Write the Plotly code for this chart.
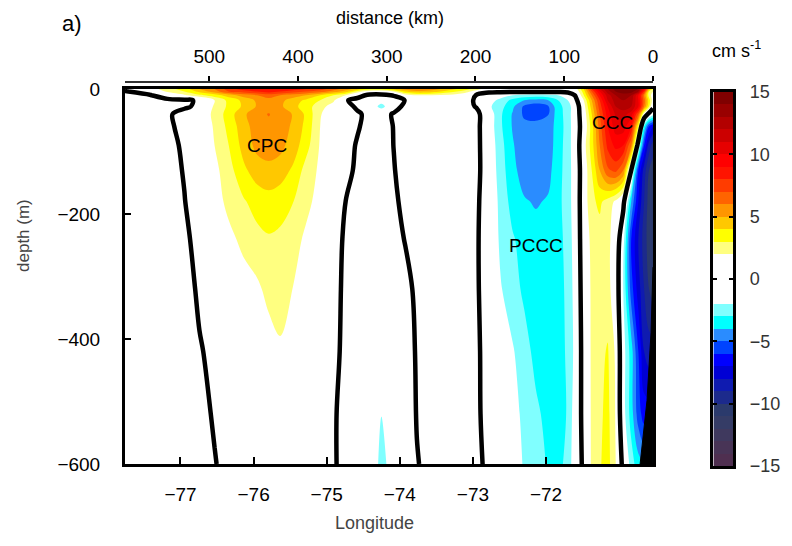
import numpy as np
import plotly.graph_objects as go

FONT = "Liberation Sans, Arial, sans-serif"

# Section geometry: distance from the coast (km), offshore -> coast
dist_km = [595, 567, 547, 528, 511, 494, 478, 461, 446, 433, 420, 405, 391, 375, 360,
           346, 333, 319, 306, 292, 279, 266, 249, 230, 212, 199, 185, 172, 158, 145,
           132, 118, 107, 96, 87, 78, 69, 60, 51, 42, 33.5, 24.5, 16.5, 10, 4.5, 0]
depth_m = [0, -4, -10, -18, -28, -40, -60, -90, -130, -180, -240, -320, -420, -520, -600]

# Alongshore velocity (cm/s) at each depth level, same column order as dist_km
u_0m = [0.5, 1.5, 2.5, 3.5, 5, 6, 7.5, 8.5, 9, 9, 9, 8.5, 8, 7.5, 6.5,
        5.5, 4.5, 3.5, 3.5, 4.5, 5.5, 6, 5.5, 4.5, 3.5, 2.5, 1.2, 0.8, 0.6, 0.6,
        0.6, 0.6, 0.6, 0.8, 1.5, 4, 8, 11, 13, 14.5, 14.8, 14.8, 14, 10, 5, 3]
u_4m = [-0.1, 0.6, 2.2, 3, 4.3, 5.5, 7, 7.5, 8, 8.5, 8, 7.5, 7, 6.5, 5.5,
        4.5, 2.5, 1.2, 1.0, 2, 4, 4.8, 4.5, 3.5, 2.5, 1.5, 0.4, 0.3, 0.3, 0.3,
        0.3, 0.3, 0.3, 0.5, 1, 3.5, 7, 10, 12.5, 14, 14.5, 14.5, 13, 8, 3, 2]
u_10m = [-0.6, -0.1, 0.8, 1.8, 2.8, 3.5, 4.5, 5.5, 6, 6.5, 6, 5.5, 5, 4, 3,
         2, 0.5, -0.3, -0.3, 0.1, 1.5, 2, 2, 1.8, 1.2, -0.1, -1, -1.5, -2, -2.3,
         -2.5, -2.3, -2, -1.3, 0.2, 3, 6, 9, 11.5, 13, 13.5, 13, 10, 6, 2.5, 1.5]
u_18m = [-0.8, -0.6, -0.3, -0.2, 0.15, 2.0, 3.3, 4.3, 5.2, 5.6, 5.3, 4.5, 3.8, 3.0, 2.2,
         0.1, -0.4, -0.7, -1.5, -0.6, 0.05, 0.8, 1.2, 1.2, 0.4, -0.15, -1.5, -2.3, -3.3, -4.0,
         -4.3, -4.0, -3.0, -2.0, -0.4, 2.0, 5.0, 8.0, 11.0, 12.5, 13.0, 12.5, 10.0, 6.5, 3.5, 1.5]
u_28m = [-1, -0.9, -0.6, -0.3, 0.4, 2.2, 3.2, 4.2, 5.1, 5.6, 5.2, 4.3, 3.5, 2.4, 1.5,
         0.6, -0.3, -1.2, -2.4, -1.0, 0.6, 1, 1.2, 1.1, 0.6, -0.1, -1.8, -2.6, -3.8, -5.2,
         -5.6, -5.1, -3.3, -2.6, -1, 1.5, 4.5, 7.5, 10, 12, 12.5, 12, 10, 6, 3, 0.5]
u_40m = [-1, -1, -0.3, 0.7, 1.4, 2.2, 3.5, 4.8, 5.7, 6.05, 5.6, 4.9, 3.8, 2.1, 1.2,
         0.6, 0.25, -0.5, -0.8, 0.2, 0.7, 1, 1.1, 1, 0.7, 0.5, -1.3, -2.8, -4.1, -5.2,
         -5.3, -5.05, -3.4, -2.6, -1, 1.2, 4, 7, 9.5, 11.2, 11.5, 10.5, 7, 1.5, -0.5, -1.5]
u_60m = [-1, -1, -0.4, 0.6, 1.3, 2.1, 3.3, 4.6, 5.5, 5.8, 5.5, 4.8, 3.7, 2.0, 1.1,
         0.5, 0.1, -0.4, -0.6, 0.05, 0.6, 0.9, 1, 1, 0.7, 0.5, -1.3, -2.8, -4.1, -4.7,
         -4.75, -4.6, -3.5, -2.6, -1.1, 1.0, 3.5, 6.5, 9, 10.5, 10.5, 9, 3, -3, -6, -7]
u_90m = [-1, -1, -0.5, 0.25, 1.1, 2.0, 3.0, 4.4, 5.3, 5.5, 5.3, 4.5, 3.4, 1.9, 1.0,
         0.4, -0.1, -0.5, -0.5, 0.02, 0.5, 0.8, 0.9, 0.9, 0.7, 0.5, -1.2, -2.6, -3.9, -4.7,
         -4.8, -4.5, -3.5, -2.5, -1.2, 1.5, 3.5, 6, 8.3, 9.3, 9, 6, -1, -6, -8.5, -9.5]
u_130m = [-1, -1, -0.6, 0.1, 0.9, 1.7, 2.6, 3.8, 4.5, 4.7, 4.5, 3.8, 2.6, 1.8, 0.9,
          0.3, -0.2, -0.5, -0.5, -0.05, 0.4, 0.7, 0.8, 0.8, 0.7, 0.5, -1.1, -2.5, -3.7, -4.5,
          -4.6, -4.3, -3.4, -2.5, -1.3, 1.2, 3, 5, 6.8, 7.3, 6, 0, -6, -8.5, -10, -10.5]
u_180m = [-1, -1, -0.7, -0.05, 0.8, 1.5, 2.3, 2.9, 3.4, 3.6, 3.4, 3.0, 2.3, 1.6, 0.8,
          -0.02, -0.4, -0.5, -0.5, -0.2, 0.3, 0.6, 0.7, 0.7, 0.6, 0.3, -1.0, -2.3, -3.4, -3.9,
          -4.1, -3.9, -3.3, -2.5, -1.3, 1.3, 2.8, 3.2, 2.6, 1.8, 0.5, -4, -7, -9, -10.5, -11]
u_240m = [-1, -1, -0.8, -0.3, 0.5, 1.0, 1.7, 2.3, 2.7, 2.9, 2.8, 2.4, 1.8, 1.2, 0.5,
          -0.2, -0.4, -0.5, -0.5, -0.35, 0.05, 0.4, 0.6, 0.6, 0.5, 0.2, -0.9, -2.2, -2.9, -3.4,
          -3.6, -3.6, -3.4, -2.6, -1.4, 1.2, 2.3, 2.6, 2.3, 1.4, -1.5, -6, -8, -9.5, -10.5, -11]
u_320m = [-1, -1, -0.9, -0.5, 0.2, 0.6, 1.0, 1.5, 1.8, 2.3, 2.6, 1.95, 1.5, 0.9, 0.3,
          -0.2, -0.4, -0.6, -0.7, -0.6, -0.3, 0.2, 0.5, 0.6, 0.5, 0.2, -0.8, -1.9, -2.6, -3.2,
          -3.5, -3.6, -3.5, -2.7, -1.5, 1.0, 2.2, 2.6, 2.4, 1.2, -2, -5.5, -7.5, -9, -10, -10.5]
u_420m = [-1, -1, -0.9, -0.6, -0.1, 0.3, 0.6, 0.9, 1.2, 1.5, 1.8, 1.3, 1.0, 0.6, 0.2,
          -0.2, -0.5, -0.8, -1.0, -0.9, -0.5, 0.1, 0.4, 0.5, 0.4, 0.3, -0.7, -1.6, -1.9, -2.6,
          -3.3, -3.5, -3.5, -2.8, -1.6, 0.8, 2.2, 2.7, 3.1, 1.8, -1.5, -3.5, -6, -8, -8.5, -8.5]
u_520m = [-1, -1, -1, -0.7, -0.3, 0.1, 0.4, 0.6, 0.8, 0.9, 0.9, 0.8, 0.6, 0.4, 0.1,
          -0.3, -0.6, -1.0, -1.98, -1.0, -0.6, 0.05, 0.3, 0.4, 0.35, 0.3, -0.6, -1.3, -1.7, -2.2,
          -2.8, -3.3, -3.5, -2.9, -1.2, 0.6, 2.2, 2.8, 3.3, 1.9, -1.5, -3.5, -5.5, -6.5, -6.5, -6.5]
u_600m = [-1, -1, -1, -0.8, -0.5, -0.05, 0.3, 0.4, 0.5, 0.6, 0.6, 0.5, 0.4, 0.3, 0.1,
          -0.3, -0.6, -1.0, -2.4, -1.4, -0.6, -0.05, 0.3, 0.4, 0.35, 0.3, -0.3, -1.0, -1.5, -2.1,
          -2.6, -3.1, -3.4, -2.6, -1.2, 0.4, 2.2, 2.9, 3.4, 2.0, -0.5, -2.5, -3.6, -4, -4, -4]

# Continental slope (black wedge at the coast)
slope_km = [0, 2.2, 6.7, 14.5, 0]
slope_depth = [-285, -390, -498, -600, -600]

# Discrete colour bands, one per 1 cm/s interval (value at band centre)
band_mid = [-15.5, -14.5, -13.5, -12.5, -11.5, -10.5, -9.5, -8.5, -7.5, -6.5, -5.5,
            -4.5, -3.5, -2.5, -1.5, -0.5, 0.5, 1.5, 2.5, 3.5, 4.5, 5.5, 6.5, 7.5,
            8.5, 9.5, 10.5, 11.5, 12.5, 13.5, 14.5, 15.5]
band_color = ["#4d2a4a", "#4f2f50", "#483456", "#3f395e", "#353c66", "#2b3a6c",
              "#1c2a8c", "#0f1bb0", "#0000d4", "#0000ff", "#0044ff", "#2a8cff",
              "#00ffff", "#80ffff", "#ffffff", "#ffffff", "#ffffff", "#ffffff",
              "#ffff80", "#ffff00", "#ffc800", "#ff9600", "#ff6400", "#ff3c00",
              "#ff1400", "#ff0000", "#e60000", "#cc0000", "#b30000", "#990000",
              "#800000", "#800000"]

lon_ticks = [-77, -76, -75, -74, -73, -72]
dist_ticks = [500, 400, 300, 200, 100, 0]
depth_ticks = [0, -200, -400, -600]
cbar_ticks = [-15, -10, -5, 0, 5, 10, 15]

rows = [u_0m, u_4m, u_10m, u_18m, u_28m, u_40m, u_60m, u_90m, u_130m,
        u_180m, u_240m, u_320m, u_420m, u_520m, u_600m]
for r in rows:
    assert len(r) == len(dist_km)

# columns go offshore -> coast; flip so distance increases along the array
x = np.array(dist_km, dtype=float)[::-1]
z = np.array(rows, dtype=float)[:, ::-1]

lev_lo, lev_hi = -15, 15
nlev = lev_hi - lev_lo + 1
cscale = [[(v - (lev_lo - 0.5)) / nlev, c] for v, c in zip(band_mid, band_color)]

# pixel frame of the figure (plot area spans both the section and the colour key)
W, H = 792, 546
L, R, T, B = 125, 762, 82, 466
PW, PH = R - L, B - T


def px(xp):
    return (xp - L) / PW


def py(yp):
    return (B - yp) / PH


fig = go.Figure()

fig.add_trace(go.Contour(
    x=x, y=depth_m, z=z, xaxis="x", yaxis="y",
    autocontour=False,
    contours=dict(start=lev_lo, end=lev_hi, size=1, coloring="fill", showlines=False),
    colorscale=cscale, showscale=False,
    line=dict(width=0, smoothing=1),
    hoverinfo="skip",
))

# zero-velocity isoline
fig.add_trace(go.Contour(
    x=x, y=depth_m, z=z, xaxis="x", yaxis="y",
    autocontour=False,
    contours=dict(start=0, end=0, size=1, coloring="none"),
    line=dict(color="black", width=4.5, smoothing=1),
    showscale=False, hoverinfo="skip",
))

fig.add_trace(go.Scatter(
    x=slope_km, y=slope_depth, xaxis="x", yaxis="y",
    mode="lines", fill="toself", fillcolor="black",
    line=dict(color="black", width=1), hoverinfo="skip", showlegend=False,
))

# placeholders so the longitude and distance axes are drawn
fig.add_trace(go.Scatter(x=[], y=[], xaxis="x2", yaxis="y", showlegend=False))
fig.add_trace(go.Scatter(x=[], y=[], xaxis="x3", yaxis="y", showlegend=False))

# colour key: one cell per 1 cm/s band, -15..15
key_mid = band_mid[1:-1]
fig.add_trace(go.Heatmap(
    x=[0.5], y=key_mid, z=[[v] for v in key_mid], xaxis="x4", yaxis="y4",
    colorscale=cscale, zmin=lev_lo - 0.5, zmax=lev_hi + 0.5,
    showscale=False, hoverinfo="skip",
))

axis_common = dict(showgrid=False, zeroline=False, color="black")

fig.update_layout(
    width=W, height=H,
    margin=dict(l=L, r=W - R, t=T, b=H - B),
    paper_bgcolor="white", plot_bgcolor="white",
    showlegend=False,
    font=dict(family=FONT, size=18, color="black"),
    xaxis=dict(range=[594.9, 0], visible=False, domain=[0, px(658)], **axis_common),
    yaxis=dict(domain=[py(464), py(89)], range=[-600, 0], tickvals=depth_ticks,
               ticks="inside", ticklen=6, tickwidth=2, tickcolor="black",
               showline=True, linewidth=3, linecolor="black", mirror=True,
               ticklabelstandoff=18, tickfont=dict(size=19), **axis_common),
    xaxis2=dict(overlaying="x", anchor="y", side="bottom",
                range=[-77.759, -70.537], tickvals=lon_ticks,
                ticks="inside", ticklen=7, tickwidth=2, tickcolor="black",
                showline=True, linewidth=3, linecolor="black", mirror=True,
                ticklabelstandoff=11, tickfont=dict(size=19), **axis_common),
    xaxis3=dict(overlaying="x", anchor="free", position=py(82), side="top",
                range=[594.9, 0], tickvals=dist_ticks,
                ticks="outside", ticklen=5, tickwidth=2, tickcolor="black",
                showline=True, linewidth=1.5, linecolor="#333333",
                ticklabelstandoff=6, tickfont=dict(size=19), **axis_common),
    xaxis4=dict(domain=[px(719), px(739)], anchor="y4", range=[0, 1],
                showticklabels=False, ticks="", showline=True, linewidth=3,
                linecolor="black", mirror=True, **axis_common),
    yaxis4=dict(domain=[py(466), py(92)], anchor="x4", side="right", range=[-15, 15],
                tickvals=cbar_ticks, ticks="inside", ticklen=4, tickwidth=2,
                tickcolor="black", showline=True, linewidth=3, linecolor="black",
                mirror="ticks", ticklabelstandoff=10,
                tickfont=dict(size=18, color="#333333"), **axis_common),
)

notes = [
    dict(text="a)", x=px(72), y=py(24), size=22, color="black"),
    dict(text="distance (km)", x=px(393), y=py(18), size=18, color="black"),
    dict(text="Longitude", x=px(377), y=py(523), size=18, color="#444444"),
    dict(text="cm s<sup>-1</sup>", x=px(742), y=py(49), size=18, color="black"),
]
for n in notes:
    fig.add_annotation(text=n["text"], x=n["x"], y=n["y"], xref="paper", yref="paper",
                       showarrow=False, xanchor="center", yanchor="middle",
                       font=dict(family=FONT, size=n["size"], color=n["color"]))

fig.add_annotation(text="depth (m)", x=px(22), y=py(235), xref="paper", yref="paper",
                   showarrow=False, textangle=-90, xanchor="center", yanchor="middle",
                   font=dict(family=FONT, size=17, color="#444444"))

# current names placed in section coordinates
current_names = ["CPC", "PCCC", "CCC", "PCU"]
name_km = [435, 132, 46, -28]
name_depth = [-91, -250, -53, -326]
for t, xk, yd in zip(current_names, name_km, name_depth):
    fig.add_annotation(text=t, x=xk, y=yd, xref="x", yref="y", showarrow=False,
                       xanchor="center", yanchor="middle",
                       font=dict(family=FONT, size=19, color="black"))

fig.write_html("out.html")
